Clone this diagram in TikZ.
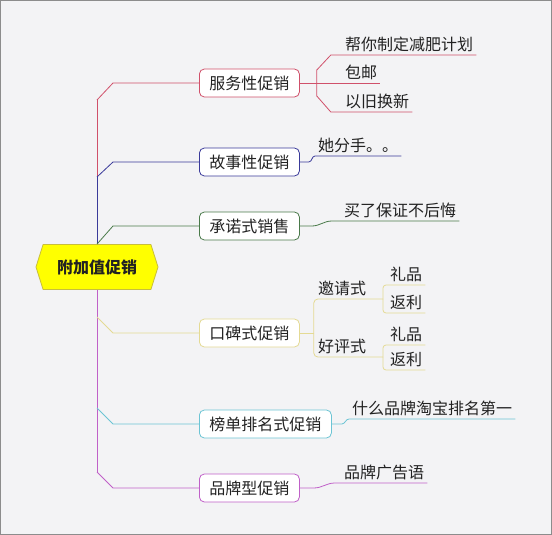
\documentclass[tikz,border=0pt]{standalone}
\usepackage{fontspec}
\newfontfamily\cjk{Noto Sans CJK SC}
\usepackage{tikz}
\usetikzlibrary{calc}
\usetikzlibrary{positioning,shapes.symbols}
\definecolor{bgcol}{HTML}{F3F3F5}
\definecolor{framecol}{HTML}{8C8C8C}
\definecolor{txt}{HTML}{222222}
\definecolor{hubfill}{HTML}{FFFF00}
\definecolor{hubedge}{HTML}{C8BE3C}
\definecolor{brred}{HTML}{D0506A}
\definecolor{brblue}{HTML}{3A3A9A}
\definecolor{brgreen}{HTML}{4A7A4A}
\definecolor{bryellow}{HTML}{E4DA94}
\definecolor{brcyan}{HTML}{6CC4D4}
\definecolor{brpurple}{HTML}{C060C8}

\begin{document}
\begin{tikzpicture}[
x=1pt, y=-1pt,
Hub/.style={shape=signal,signal to=west and east,signal pointer angle=145,draw=hubedge,fill=hubfill,line width=0.8pt,minimum width=122pt,minimum height=45pt,inner sep=0pt,text=txt,font=\cjk\bfseries\fontsize{16}{18}\selectfont},
Topic/.style={fill=white,rounded corners=5pt,line width=0.8pt,minimum height=28pt,inner xsep=10pt,anchor=west,text=txt,font=\cjk\fontsize{16}{18}\selectfont},
Leaf/.style={inner xsep=3pt,inner ysep=4pt,text height=13pt,text depth=0pt,anchor=south west,text=txt,font=\cjk\fontsize{16}{18}\selectfont},
Line/.style={line width=0.8pt}
]
\useasboundingbox (0,0) rectangle (552,535);
\draw[fill=bgcol,draw=framecol] (0.5,0.5) rectangle (551.5,534.5);

% centre and main topics
\node[Hub] (hub) at (97,267) {附加值促销};

\node[Topic,draw=brred] (fuwu) at (199,83) {服务性促销};
\node[Topic,draw=brblue] (gushi) at (199,162) {故事性促销};
\node[Topic,draw=brgreen] (chengnuo) at (199,226) {承诺式销售};
\node[Topic,draw=bryellow] (koubei) at (199,333) {口碑式促销};
\node[Topic,draw=brcyan] (bangdan) at (199,424) {榜单排名式促销};
\node[Topic,draw=brpurple] (pinpai) at (199,488) {品牌型促销};

% trunk
\coordinate (J1) at (97,100);
\coordinate (J2) at (97,177);
\coordinate (J4) at (97,317);
\coordinate (J5) at (97,408);
\coordinate (J6) at (97,472);

\draw[Line,brred] (J2) -- (J1);
\draw[Line,brblue] (hub.north) -- (J2);
\draw[Line,brpurple] (hub.south) -- (J6);

\draw[Line,brred] (J1) -- ($(J1 |- fuwu.west)+(16,0)$) -- (fuwu.west);
\draw[Line,brblue] (J2) -- ($(J2 |- gushi.west)+(16,0)$) -- (gushi.west);
\draw[Line,brgreen] (hub.north) -- ($(hub.north |- chengnuo.west)+(16,0)$) -- (chengnuo.west);
\draw[Line,bryellow] (J4) -- ($(J4 |- koubei.west)+(16,0)$) -- (koubei.west);
\draw[Line,brcyan] (J5) -- ($(J5 |- bangdan.west)+(16,0)$) -- (bangdan.west);
\draw[Line,brpurple] (J6) -- ($(J6 |- pinpai.west)+(16,0)$) -- (pinpai.west);

% service
\node[Leaf] (jianfei) at (342,55) {帮你制定减肥计划};
\node[Leaf] (baoyou) at (342,83) {包邮};
\node[Leaf] (yijiu) at (342,112) {以旧换新};
\coordinate (F1) at ($(fuwu.east)+(17,0)$);
\draw[Line,brred] (fuwu.east) -- (baoyou.south east);
\draw[Line,brred] (F1) -- ++(0,-13) -- ++(14,-15) -- (jianfei.south east);
\draw[Line,brred] (F1) -- ++(0,13) -- ++(14,16) -- (yijiu.south east);

% story
\node[Leaf] (tafen) at (315,156) {她分手。。};
\draw[Line,brblue] (gushi.east) -- ++(9,0) to[out=0,in=180] (tafen.south west) -- (tafen.south east);

% promise
\node[Leaf] (baole) at (341,221) {买了保证不后悔};
\draw[Line,brgreen] (chengnuo.east) -- ++(12,0) to[out=0,in=180] ++(20,-5) -- (baole.south east);

% word of mouth
\node[Leaf] (yaoqing) at (315,299) {邀请式};
\node[Leaf] (haoping) at (315,357) {好评式};
\node[Leaf] (lipinA) at (387,285) {礼品};
\node[Leaf] (fanliA) at (387,313) {返利};
\node[Leaf] (lipinB) at (387,345) {礼品};
\node[Leaf] (fanliB) at (387,370) {返利};
\coordinate (F4) at ($(koubei.east)+(14,0)$);
\coordinate (S1) at ($(yaoqing.south west)+(68,0)$);
\coordinate (S2) at ($(haoping.south west)+(68,0)$);
\draw[Line,bryellow] (koubei.east) -- (F4);
\draw[Line,bryellow,rounded corners=4pt] (F4) |- (S1);
\draw[Line,bryellow,rounded corners=4pt] (F4) |- (S2);
\draw[Line,bryellow,rounded corners=3pt] (S1) |- (lipinA.south east);
\draw[Line,bryellow,rounded corners=3pt] (S1) |- (fanliA.south east);
\draw[Line,bryellow,rounded corners=3pt] (S2) |- (lipinB.south east);
\draw[Line,bryellow,rounded corners=3pt] (S2) |- (fanliB.south east);

% ranking
\node[Leaf] (shenme) at (349,419) {什么品牌淘宝排名第一};
\draw[Line,brcyan] (bangdan.east) -- ++(10,0) to[out=0,in=180] (shenme.south west) -- (shenme.south east);

% brand
\node[Leaf] (guanggao) at (341,483) {品牌广告语};
\draw[Line,brpurple] (pinpai.east) -- ++(14,0) to[out=0,in=180] ++(21,-5) -- (guanggao.south east);

\end{tikzpicture}
\end{document}
